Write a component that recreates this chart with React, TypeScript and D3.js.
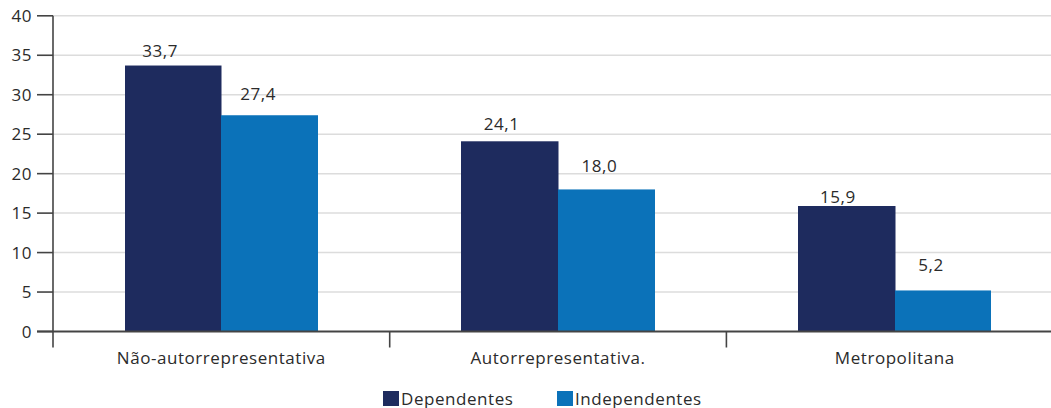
import * as d3 from "d3";
import { useEffect, useRef } from "react";

const categories = ["Não-autorrepresentativa", "Autorrepresentativa.", "Metropolitana"];
const seriesNames = ["Dependentes", "Independentes"];
const dependentes = [33.7, 24.1, 15.9];
const independentes = [27.4, 18.0, 5.2];
const yTicks = [0, 5, 10, 15, 20, 25, 30, 35, 40];
const colors = ["#1e2b5e", "#0b72b9"];

// hand-placed value labels in the original: nudge [dx from bar centre, gap above bar]
const labelNudge = [
  [
    [-13, 9],
    [-8, 11],
    [-8.5, 3],
  ],
  [
    [-11.5, 15],
    [-7, 17],
    [-12, 19],
  ],
];

const W = 1051;
const H = 408;

const App = () => {
  const ref = useRef<SVGSVGElement>(null);

  useEffect(() => {
    const svg = d3.select(ref.current);
    svg.selectAll("*").remove();
    const font = "'Open Sans', 'Noto Sans', sans-serif";
    const textColor = "#2b2b2b";
    const fs = 17;
    const ls = "0.55px";

    const left = 53;
    const bandW = 336.7;
    const x = d3
      .scaleBand<string>()
      .domain(categories)
      .range([left, left + bandW * categories.length])
      .paddingInner(0)
      .paddingOuter(0);
    const y = d3.scaleLinear().domain([0, 40]).range([331.5, 15.8]);
    const inner = d3.scaleBand<string>().domain(seriesNames).range([71.7, bandW - 71.7]);

    const series = [dependentes, independentes];

    // gridlines
    svg
      .append("g")
      .selectAll("line")
      .data(yTicks.filter((t) => t > 0))
      .join("line")
      .attr("x1", left)
      .attr("x2", W)
      .attr("y1", (d) => y(d))
      .attr("y2", (d) => y(d))
      .attr("stroke", "#dcdcdc")
      .attr("stroke-width", 1.5);

    // bars
    categories.forEach((c, i) => {
      series.forEach((s, j) => {
        const bx = (x(c) ?? 0) + (inner(seriesNames[j]) ?? 0);
        const [dx, gap] = labelNudge[j][i];
        svg
          .append("rect")
          .attr("x", Math.round(bx))
          .attr("y", y(s[i]))
          .attr("width", Math.round(bx + inner.bandwidth()) - Math.round(bx) + (j === 0 ? 0.5 : 0))
          .attr("height", y(0) - y(s[i]))
          .attr("fill", colors[j]);
        svg
          .append("text")
          .attr("x", bx + inner.bandwidth() / 2 + dx)
          .attr("y", y(s[i]) - gap)
          .attr("text-anchor", "middle")
          .attr("font-family", font)
          .attr("font-size", fs)
          .attr("letter-spacing", ls)
          .attr("fill", textColor)
          .text(d3.format(".1f")(s[i]).replace(".", ","));
      });
    });

    const axisColor = "#444";
    // y axis
    svg
      .append("line")
      .attr("x1", left)
      .attr("x2", left)
      .attr("y1", y(40))
      .attr("y2", y(0) + 16)
      .attr("stroke", axisColor)
      .attr("stroke-width", 1.6);
    const yt = svg.append("g").selectAll("g").data(yTicks).join("g");
    yt.append("line")
      .attr("x1", 37)
      .attr("x2", left)
      .attr("y1", (d) => y(d))
      .attr("y2", (d) => y(d))
      .attr("stroke", axisColor)
      .attr("stroke-width", 1.6);
    yt.append("text")
      .attr("x", 32)
      .attr("y", (d) => y(d))
      .attr("dy", "0.36em")
      .attr("text-anchor", "end")
      .attr("font-family", font)
      .attr("font-size", fs)
      .attr("letter-spacing", ls)
      .attr("fill", textColor)
      .text((d) => d);

    // x axis
    svg
      .append("line")
      .attr("x1", 37)
      .attr("x2", W)
      .attr("y1", y(0))
      .attr("y2", y(0))
      .attr("stroke", axisColor)
      .attr("stroke-width", 2);
    categories.forEach((c, i) => {
      if (i > 0) {
        svg
          .append("line")
          .attr("x1", x(c) ?? 0)
          .attr("x2", x(c) ?? 0)
          .attr("y1", y(0))
          .attr("y2", y(0) + 16)
          .attr("stroke", axisColor)
          .attr("stroke-width", 1.6);
      }
      svg
        .append("text")
        .attr("x", (x(c) ?? 0) + bandW / 2)
        .attr("y", 364)
        .attr("text-anchor", "middle")
        .attr("font-family", font)
        .attr("font-size", fs)
        .attr("letter-spacing", ls)
        .attr("fill", textColor)
        .text(c);
    });

    // legend
    const legendX = [383, 557];
    seriesNames.forEach((n, j) => {
      svg
        .append("rect")
        .attr("x", legendX[j])
        .attr("y", 391)
        .attr("width", 16)
        .attr("height", 15)
        .attr("fill", colors[j]);
      svg
        .append("text")
        .attr("x", legendX[j] + 18)
        .attr("y", 404.5)
        .attr("font-family", font)
        .attr("font-size", fs)
        .attr("letter-spacing", ls)
        .attr("fill", textColor)
        .text(n);
    });

    return () => {
      svg.selectAll("*").remove();
    };
  }, []);

  return (
    <svg
      ref={ref}
      width={W}
      height={H}
      style={{ position: "absolute", left: 0, top: 0, background: "#fff" }}
    ></svg>
  );
};

export default App;
